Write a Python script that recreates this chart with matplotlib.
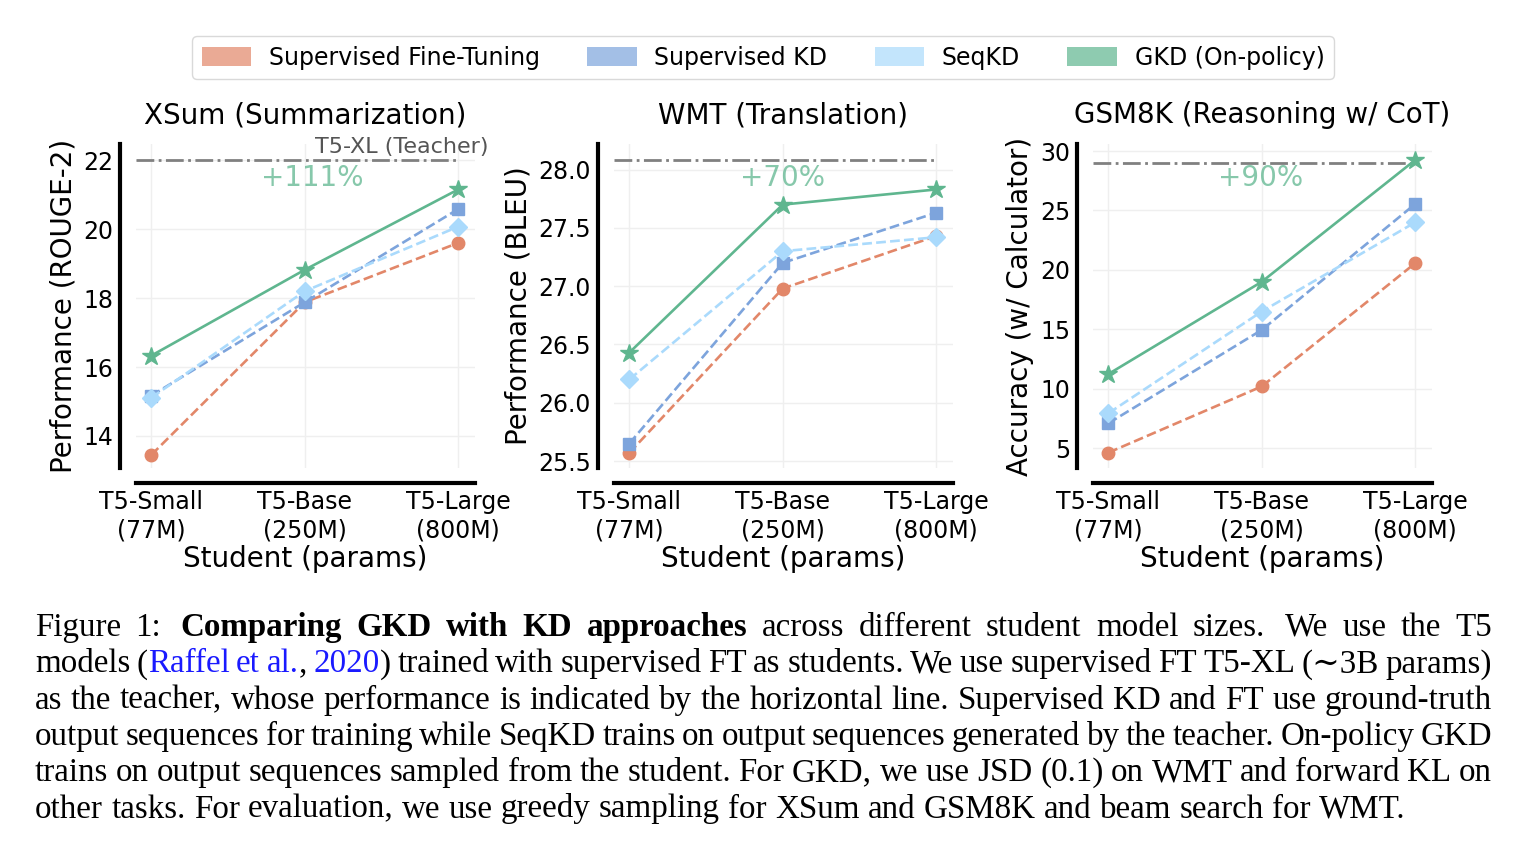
import matplotlib
matplotlib.use("Agg")
import matplotlib.pyplot as plt
from matplotlib.patches import Patch

students = ["T5-Small\n(77M)", "T5-Base\n(250M)", "T5-Large\n(800M)"]
methods = ["Supervised Fine-Tuning", "Supervised KD", "SeqKD", "GKD (On-policy)"]
colors = ["#e28769", "#7da4dc", "#aadafc", "#5fb68f"]
markers = ["o", "s", "D", "*"]
msizes = [9, 8.5, 9, 13.5]
styles = ["--", "--", "--", "-"]

# XSum (ROUGE-2)
xsum_sft = [13.45, 17.88, 19.6]
xsum_skd = [15.17, 17.88, 20.58]
xsum_seqkd = [15.11, 18.2, 20.07]
xsum_gkd = [16.33, 18.82, 21.15]
xsum_teacher = 22.0

# WMT (BLEU)
wmt_sft = [25.57, 26.98, 27.43]
wmt_skd = [25.65, 27.20, 27.63]
wmt_seqkd = [26.20, 27.30, 27.42]
wmt_gkd = [26.43, 27.70, 27.83]
wmt_teacher = 28.08

# GSM8K (accuracy)
gsm_sft = [4.63, 10.2, 20.56]
gsm_skd = [7.1, 14.95, 25.54]
gsm_seqkd = [7.94, 16.5, 24.0]
gsm_gkd = [11.24, 19.0, 29.24]
gsm_teacher = 29.0

panels = [
    {"title": "XSum (Summarization)", "ylabel": "Performance (ROUGE-2)",
     "series": [xsum_sft, xsum_skd, xsum_seqkd, xsum_gkd], "teacher": xsum_teacher,
     "ylim": (13.07, 22.47), "yticks": [14, 16, 18, 20, 22], "fmt": "{:.0f}",
     "gain": "+111%", "gain_x": 0.52},
    {"title": "WMT (Translation)", "ylabel": "Performance (BLEU)",
     "series": [wmt_sft, wmt_skd, wmt_seqkd, wmt_gkd], "teacher": wmt_teacher,
     "ylim": (25.44, 28.22), "yticks": [25.5, 26.0, 26.5, 27.0, 27.5, 28.0], "fmt": "{:.1f}",
     "gain": "+70%", "gain_x": 0.496},
    {"title": "GSM8K (Reasoning w/ CoT)", "ylabel": "Accuracy (w/ Calculator)",
     "series": [gsm_sft, gsm_skd, gsm_seqkd, gsm_gkd], "teacher": gsm_teacher,
     "ylim": (3.34, 30.59), "yticks": [5, 10, 15, 20, 25, 30], "fmt": "{:.0f}",
     "gain": "+90%", "gain_x": 0.494},
]

W, H = 1536, 858
fig = plt.figure(figsize=(W / 100, H / 100), dpi=100)

lefts = [136, 614, 1093]
x = [0, 1, 2]
for p, left in zip(panels, lefts):
    ax = fig.add_axes([left / W, (H - 468) / H, 339 / W, 324 / H])
    ax.grid(True, color="#efefef", lw=1)
    ax.set_axisbelow(True)
    ax.hlines(p["teacher"], -0.1, 2.0, colors="#808080", linestyles="-.", lw=2, zorder=1)
    for vals, c, m, ms, ls in zip(p["series"], colors, markers, msizes, styles):
        ax.plot(x, vals, ls=ls, color=c, marker=m, ms=ms, lw=1.9, zorder=3)
    ax.set_xlim(-0.1, 2.11)
    ax.set_ylim(*p["ylim"])
    ax.set_yticks(p["yticks"])
    ax.set_yticklabels([p["fmt"].format(v) for v in p["yticks"]])
    ax.set_xticks(x)
    ax.set_xticklabels(students, linespacing=1.0)
    ax.tick_params(length=0, labelsize=17, pad=5)
    for s in ["top", "right"]:
        ax.spines[s].set_visible(False)
    ax.spines["left"].set_position(("outward", 11.5))
    ax.spines["bottom"].set_position(("outward", 11))
    ax.spines["left"].set_linewidth(3)
    ax.spines["bottom"].set_linewidth(3)
    ax.set_title(p["title"], fontsize=20, pad=15)
    ax.set_ylabel(p["ylabel"], fontsize=20, labelpad=4)
    ax.set_xlabel("Student (params)", fontsize=20, labelpad=2)
    ax.text(p["gain_x"], 0.895, p["gain"], transform=ax.transAxes, ha="center",
            va="center", fontsize=20, color=colors[3], alpha=0.75)
    if p is panels[0]:
        ax.text(2.2, p["teacher"] + 0.38, "T5-XL (Teacher)", ha="right", va="center",
                fontsize=16, color="#555555")

handles = [Patch(facecolor=c, edgecolor="none", alpha=0.7) for c in colors]
fig.legend(handles, methods, loc="center", bbox_to_anchor=(763 / W, 1 - 57.5 / H),
           ncol=4, fontsize=17, frameon=True, handlelength=2.1, handleheight=0.85,
           handletextpad=0.75, columnspacing=2.0, edgecolor="#d0d0d0", fancybox=True)

# caption, justified line by line (double space = sentence gap)
cap_lines = [
    [("Figure 1:  ", "n"), ("Comparing GKD with KD approaches", "b"),
     (" across different student model sizes.  We use the T5", "n")],
    [("models (", "n"), ("Raffel et al.", "blue"), (", ", "n"), ("2020", "blue"),
     (") trained with supervised FT as students. We use supervised FT T5-XL (\u223c3B params)", "n")],
    [("as the teacher, whose performance is indicated by the horizontal line. Supervised KD and FT use ground-truth", "n")],
    [("output sequences for training while SeqKD trains on output sequences generated by the teacher. On-policy GKD", "n")],
    [("trains on output sequences sampled from the student. For GKD, we use JSD (0.1) on WMT and forward KL on", "n")],
    [("other tasks. For evaluation, we use greedy sampling for XSum and GSM8K and beam search for WMT.", "n")],
]
cap_font = ["Liberation Serif", "DejaVu Serif"]
cap_size = 23.8
cap_left, cap_right = 35, 1492
cap_base0, cap_step = 636, 36.3


def words_of(runs):
    # returns list of (segments, extra_spaces_after)
    words = [[[], 0]]
    for text, style in runs:
        for i, part in enumerate(text.split(" ")):
            if i > 0:
                if words[-1][0]:
                    words.append([[], 0])
                else:
                    if len(words) > 1:
                        words[-2][1] += 1
            if part:
                words[-1][0].append((part, style))
    return [w for w in words if w[0]]


def seg_kw(style):
    kw = {"fontsize": cap_size, "family": cap_font, "va": "baseline", "ha": "left"}
    if style == "b":
        kw["fontweight"] = "bold"
    if style == "blue":
        kw["color"] = "#1a1aff"
    return kw


renderer = fig.canvas.get_renderer()


def width_of(text, style):
    t = fig.text(0, 0, text, **seg_kw(style))
    w = t.get_window_extent(renderer).width
    t.remove()
    return w


space_w = width_of("a a", "n") - width_of("aa", "n")
for li, runs in enumerate(cap_lines):
    words = words_of(runs)
    widths = [[width_of(s, st) for s, st in w[0]] for w in words]
    extra = [w[1] * space_w * 0.6 for w in words]
    total = sum(sum(w) for w in widths) + sum(extra[:-1])
    if li < len(cap_lines) - 1:
        gap = (cap_right - cap_left - total) / (len(words) - 1)
    else:
        gap = space_w
    xp = cap_left
    yb = 1 - (cap_base0 + li * cap_step) / H
    for w, ws, ex in zip(words, widths, extra):
        for (s, st), sw in zip(w[0], ws):
            fig.text(xp / W, yb, s, **seg_kw(st))
            xp += sw
        xp += gap + ex

fig.savefig("out.png", dpi=100)
